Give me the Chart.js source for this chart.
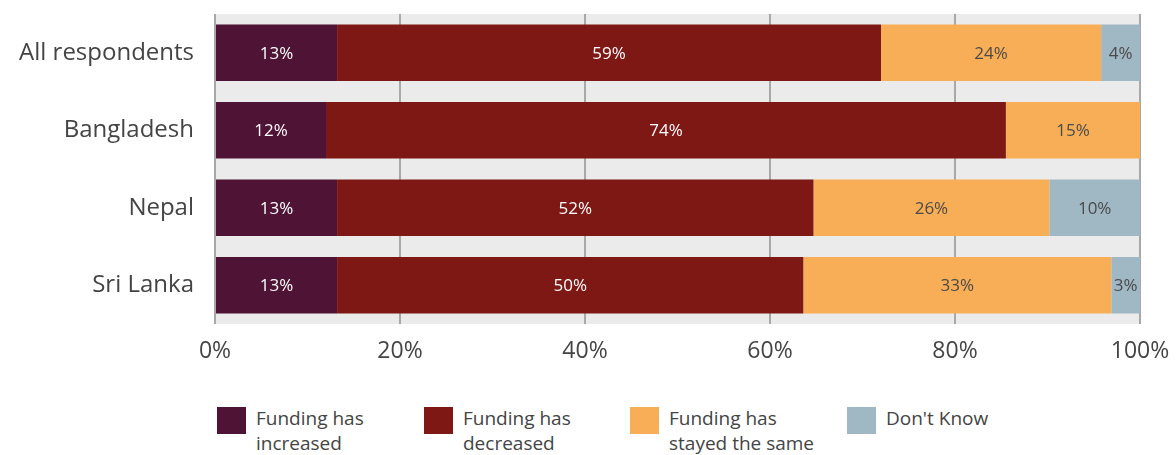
<!DOCTYPE html>
<html>
<head>
<meta charset="utf-8">
<script src="https://cdn.jsdelivr.net/npm/chart.js@4"></script>
<style>
  html, body { margin:0; padding:0; background:#fff; }
  body { width:1176px; height:455px; position:relative; overflow:hidden; font-family:'Open Sans', sans-serif; }
  #wrap { position:absolute; left:0; top:0; width:1176px; height:390px; }
  .legend { position:absolute; top:407px; left:0; }
  .item { position:absolute; top:0; display:flex; }
  .sw { width:29px; height:27px; flex:none; }
  .txt { margin-left:10px; margin-top:-1px; font-size:19px; line-height:25px; color:#444; white-space:nowrap; }
</style>
</head>
<body>
<div id="wrap"><canvas id="chart" width="1176" height="390"></canvas></div>
<div class="legend" id="legend"></div>
<script>
const categories = ['All respondents', 'Bangladesh', 'Nepal', 'Sri Lanka'];
const increased  = [13.2, 12.0, 13.2, 13.2];
const decreased  = [58.8, 73.5, 51.5, 50.4];
const same       = [23.8, 14.5, 25.5, 33.3];
const dontKnow   = [4.2, 0, 9.8, 3.1];
const xTicks = [0, 20, 40, 60, 80, 100];

const series = [
  { label:['Funding has', 'increased'], data:increased, color:'#4f1335', text:'#ffffff', x:217 },
  { label:['Funding has', 'decreased'], data:decreased, color:'#7e1815', text:'#ffffff', x:424 },
  { label:['Funding has', 'stayed the same'], data:same, color:'#f8ae56', text:'#4a4a4a', x:630 },
  { label:["Don't Know"], data:dontKnow, color:'#a0b7c4', text:'#4a4a4a', x:847 },
];

// light grey panel behind the bars
const panelBg = {
  id:'panelBg',
  beforeDraw(chart){
    const { ctx, chartArea:a } = chart;
    ctx.save();
    ctx.fillStyle = '#ebebeb';
    ctx.fillRect(a.left, a.top, a.right - a.left, a.bottom - a.top);
    ctx.restore();
  }
};

// percentage text in the middle of each segment
const segLabels = {
  id:'segLabels',
  afterDatasetsDraw(chart){
    const { ctx } = chart;
    ctx.save();
    ctx.font = '17px "Open Sans", sans-serif';
    ctx.textAlign = 'center';
    ctx.textBaseline = 'middle';
    chart.data.datasets.forEach((ds, i) => {
      chart.getDatasetMeta(i).data.forEach((bar, j) => {
        const v = ds.data[j];
        if (!v) return;
        const right = Math.min(bar.x, chart.chartArea.right);
        ctx.fillStyle = series[i].text;
        ctx.fillText(Math.round(v) + '%', (bar.base + right) / 2, bar.y + 1);
      });
    });
    ctx.restore();
  }
};

new Chart(document.getElementById('chart'), {
  type:'bar',
  data:{
    labels:categories,
    datasets:series.map(s => ({
      label:s.label.join(' '),
      data:s.data,
      backgroundColor:s.color,
      borderWidth:0,
      barPercentage:0.73,
      categoryPercentage:1
    }))
  },
  options:{
    indexAxis:'y',
    responsive:false,
    animation:false,
    layout:{ padding:{ top:14, right:36, left:0, bottom:0 } },
    plugins:{ legend:{ display:false }, tooltip:{ enabled:false } },
    scales:{
      x:{
        stacked:true, min:0, max:100,
        afterBuildTicks(axis){ axis.ticks = xTicks.map(v => ({ value:v })); },
        afterFit(axis){ axis.height = 66; axis.paddingLeft = 0; axis.paddingRight = 0; },
        grid:{ color:'#a8a8a8', lineWidth:2, drawTicks:false },
        border:{ display:false },
        ticks:{ color:'#444', padding:14, font:{ size:23, family:'"Open Sans", sans-serif' }, callback:v => v + '%' }
      },
      y:{
        stacked:true,
        afterFit(axis){ axis.width = 215; axis.paddingTop = 0; axis.paddingBottom = 0; },
        grid:{ display:false, drawTicks:false },
        border:{ display:false },
        ticks:{ color:'#444', padding:21, font:{ size:24, family:'"Open Sans", sans-serif' } }
      }
    }
  },
  plugins:[panelBg, segLabels]
});

document.getElementById('legend').innerHTML = series.map(s =>
  `<div class="item" style="left:${s.x}px"><div class="sw" style="background:${s.color}"></div><div class="txt">${s.label.join('<br>')}</div></div>`
).join('');
</script>
</body>
</html>
